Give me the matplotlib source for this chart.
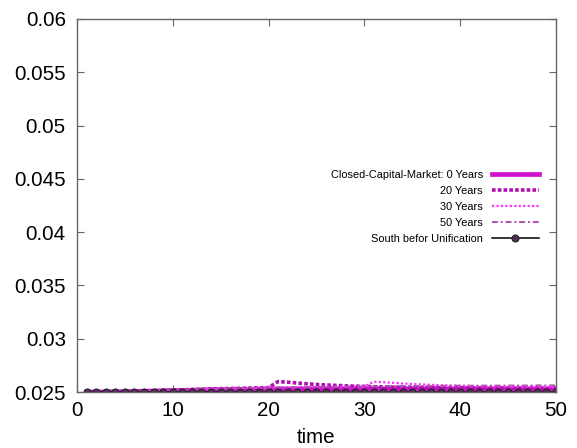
import numpy as np
import matplotlib
matplotlib.use("Agg")
import matplotlib.pyplot as plt

plt.rcParams["font.family"] = ["Liberation Sans", "DejaVu Sans"]

# time steps
time = np.arange(1, 51)

# interest rate paths
years_0 = [0.02500, 0.02500, 0.02501, 0.02502, 0.02503, 0.02505, 0.02507, 0.02509, 0.02511, 0.02513,
           0.02515, 0.02517, 0.02519, 0.02521, 0.02522, 0.02523, 0.02524, 0.02525, 0.02526, 0.02527,
           0.02528, 0.02528, 0.02529, 0.02529, 0.02530, 0.02530, 0.02530, 0.02530, 0.02530, 0.02530,
           0.02530, 0.02530, 0.02530, 0.02530, 0.02530, 0.02530, 0.02530, 0.02529, 0.02529, 0.02529,
           0.02529, 0.02529, 0.02529, 0.02528, 0.02528, 0.02528, 0.02528, 0.02528, 0.02528, 0.02528]
years_20 = [0.02500, 0.02500, 0.02501, 0.02502, 0.02504, 0.02506, 0.02508, 0.02511, 0.02514, 0.02517,
            0.02520, 0.02523, 0.02526, 0.02529, 0.02531, 0.02533, 0.02535, 0.02537, 0.02539, 0.02541,
            0.02598, 0.02592, 0.02584, 0.02577, 0.02571, 0.02566, 0.02562, 0.02558, 0.02555, 0.02553,
            0.02550, 0.02548, 0.02546, 0.02545, 0.02544, 0.02543, 0.02542, 0.02541, 0.02540, 0.02540,
            0.02539, 0.02539, 0.02538, 0.02538, 0.02538, 0.02537, 0.02537, 0.02537, 0.02537, 0.02537]
years_30 = [0.02500, 0.02500, 0.02501, 0.02502, 0.02504, 0.02506, 0.02508, 0.02511, 0.02514, 0.02517,
            0.02520, 0.02523, 0.02526, 0.02529, 0.02531, 0.02533, 0.02535, 0.02537, 0.02539, 0.02541,
            0.02543, 0.02544, 0.02545, 0.02546, 0.02547, 0.02548, 0.02549, 0.02550, 0.02551, 0.02552,
            0.02596, 0.02592, 0.02586, 0.02580, 0.02575, 0.02571, 0.02567, 0.02564, 0.02561, 0.02559,
            0.02557, 0.02555, 0.02554, 0.02553, 0.02552, 0.02551, 0.02550, 0.02550, 0.02549, 0.02549]
years_50 = [0.02500, 0.02500, 0.02501, 0.02502, 0.02504, 0.02506, 0.02508, 0.02511, 0.02514, 0.02517,
            0.02520, 0.02523, 0.02526, 0.02529, 0.02531, 0.02533, 0.02535, 0.02537, 0.02539, 0.02541,
            0.02543, 0.02544, 0.02545, 0.02546, 0.02547, 0.02548, 0.02549, 0.02550, 0.02551, 0.02552,
            0.02553, 0.02554, 0.02555, 0.02556, 0.02556, 0.02557, 0.02557, 0.02558, 0.02558, 0.02559,
            0.02559, 0.02560, 0.02560, 0.02560, 0.02561, 0.02561, 0.02561, 0.02562, 0.02562, 0.02562]
south = [0.025] * 50

labels = ["Closed-Capital-Market: 0 Years", "20 Years", "30 Years", "50 Years",
          "South befor Unification"]

fig = plt.figure(figsize=(5.77, 4.48), dpi=100)
ax = fig.add_axes([0.1334, 0.125, 0.830, 0.8326])

ax.plot(time, years_0, color="#d010d0", lw=3.4, label=labels[0])
ax.plot(time, years_20, color="#b010b0", lw=2.6, ls=(0, (1, 0.6)), label=labels[1])
ax.plot(time, years_30, color="#ff30ff", lw=1.6, ls=(0, (1, 1)), label=labels[2])
ax.plot(time, years_50, color="#b050b0", lw=1.4, ls=(0, (3, 1.5, 1, 1.5)), label=labels[3])
ax.plot(time, south, color="black", lw=1.1, marker="o", ms=5,
        mfc="#5a2a5a", mec="#222222", mew=0.8, label=labels[4])

ax.set_xlim(0, 50)
ax.set_ylim(0.025, 0.06)
ax.set_xticks(np.arange(0, 51, 10))
ax.set_yticks(np.arange(0.025, 0.0601, 0.005))
ax.set_yticklabels(["%g" % round(v, 3) for v in np.arange(0.025, 0.0601, 0.005)])
ax.tick_params(direction="in", length=5, width=0.8, color="#666666",
               top=True, right=True, labelsize=14.8)
ax.tick_params(axis="y", pad=8)
ax.tick_params(axis="x", pad=6.5)
for s in ax.spines.values():
    s.set_color("#666666")
    s.set_linewidth(1.0)
ax.set_xlabel("time", fontsize=14.8, labelpad=5.5)

ax.legend(loc="center right", bbox_to_anchor=(0.985, 0.496), markerfirst=False,
          frameon=False, fontsize=7.9, handlelength=4.3, handletextpad=0.8,
          labelspacing=0.55)

fig.savefig("out.png", dpi=100)
